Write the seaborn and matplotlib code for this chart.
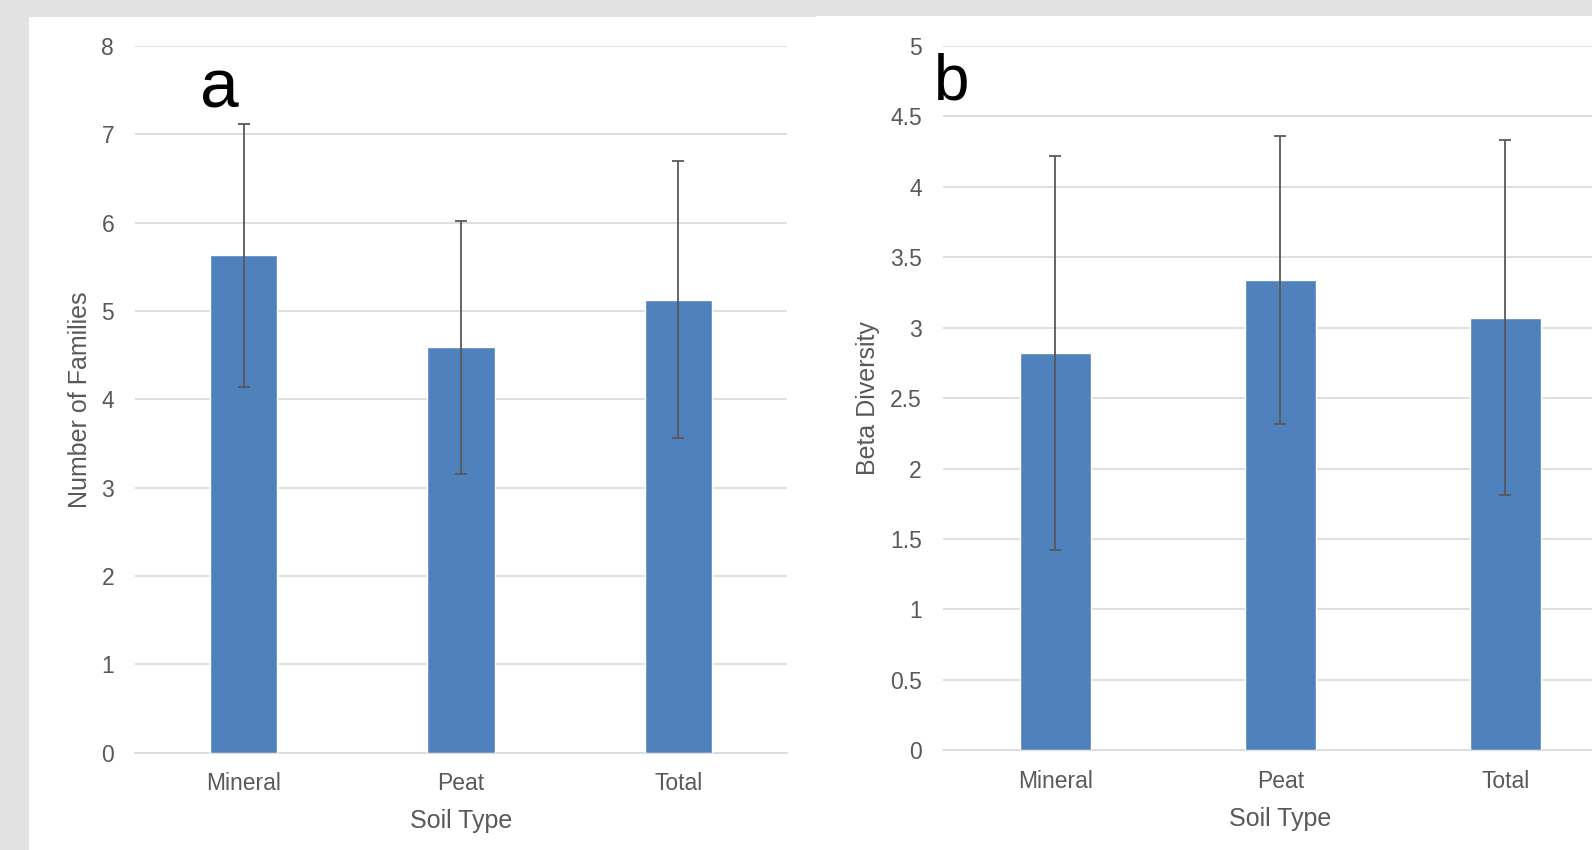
import numpy as np
import pandas as pd
import matplotlib
matplotlib.use('Agg')
import matplotlib.pyplot as plt
import seaborn as sns
from matplotlib.patches import Rectangle
from matplotlib.ticker import FormatStrFormatter

# Данные
soil_types = ['Mineral', 'Peat', 'Total']
families_mean = [5.63, 4.59, 5.13]
families_err = [1.49, 1.43, 1.57]
beta_mean = [2.82, 3.34, 3.07]
beta_err = [1.40, 1.02, 1.26]

BAR_COLOR = '#4f81bd'
GRID_COLOR = '#d9d9d9'
TEXT_COLOR = '#595959'

sns.set_style('white')
plt.rcParams['font.family'] = ['Liberation Sans', 'DejaVu Sans']

W, H = 1592, 850
fig = plt.figure(figsize=(W / 100, H / 100), dpi=100)
fig.patch.set_facecolor('#e2e2e2')

# белые панели
fig.patches.append(Rectangle((29 / W, 0), (816 - 29) / W, (H - 17) / H,
                             transform=fig.transFigure, facecolor='white',
                             edgecolor='none', zorder=-5))
fig.patches.append(Rectangle((816 / W, 0), (W - 816) / W, (H - 16) / H,
                             transform=fig.transFigure, facecolor='white',
                             edgecolor='none', zorder=-5))

ax1 = fig.add_axes([135 / W, (H - 752.7) / H, 652 / W, (752.7 - 46) / H])
ax2 = fig.add_axes([942.7 / W, (H - 750.3) / H, 675 / W, (750.3 - 46) / H])


def draw_panel(ax, means, errs, ymax, step, width, ylabel, letter, letter_xy,
               letter_size, ylabel_x, xlabel_y):
    df = pd.DataFrame({'soil': soil_types, 'value': means})
    sns.barplot(data=df, x='soil', y='value', color=BAR_COLOR, width=width,
                saturation=1, errorbar=None, ax=ax, zorder=3)
    ax.errorbar(range(len(soil_types)), means, yerr=errs, fmt='none',
                ecolor=TEXT_COLOR, elinewidth=1.3, capsize=4.2, capthick=1.3,
                zorder=4)
    ax.set_facecolor('none')
    ax.set_xlim(-0.5, 2.5)
    ax.set_ylim(0, ymax)
    ax.set_yticks(np.arange(0, ymax + step / 2, step))
    ax.yaxis.set_major_formatter(FormatStrFormatter('%g'))
    ax.grid(axis='y', color=GRID_COLOR, linewidth=1.2, zorder=0)
    ax.set_axisbelow(True)
    for s in ['left', 'right', 'top']:
        ax.spines[s].set_visible(False)
    ax.spines['bottom'].set_color(GRID_COLOR)
    ax.spines['bottom'].set_linewidth(1.2)
    ax.tick_params(axis='both', length=0, labelsize=16.5, labelcolor=TEXT_COLOR)
    ax.tick_params(axis='y', pad=15)
    ax.tick_params(axis='x', pad=14)
    ax.set_xlabel('Soil Type', fontsize=18, color=TEXT_COLOR)
    ax.set_ylabel(ylabel, fontsize=18, color=TEXT_COLOR)
    ax.xaxis.label.set_va('center')
    ax.yaxis.label.set_va('center')
    ax.xaxis.set_label_coords(0.5, xlabel_y, transform=ax.transAxes)
    ax.yaxis.set_label_coords(ylabel_x, 0.50, transform=ax.transAxes)
    fig.text(letter_xy[0] / W, 1 - letter_xy[1] / H, letter,
             fontsize=letter_size, color='black', ha='center', va='baseline')


draw_panel(ax1, families_mean, families_err, 8, 1, 0.31,
           'Number of Families', 'a', (219, 107), 50, -0.084, -0.096)
draw_panel(ax2, beta_mean, beta_err, 5, 0.5, 0.316,
           'Beta Diversity', 'b', (952, 100), 46, -0.111, -0.098)

plt.savefig('out.png', dpi=100, facecolor=fig.get_facecolor())
plt.close()
